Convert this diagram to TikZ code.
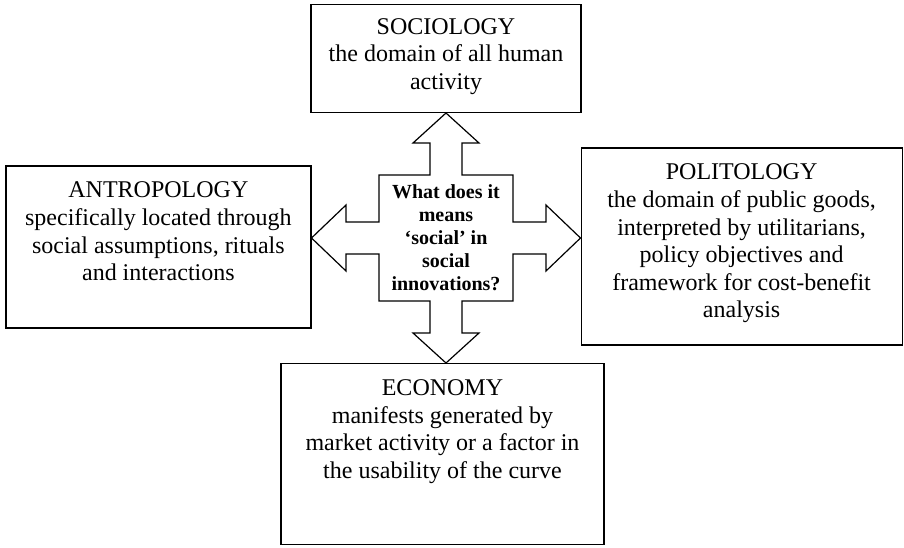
\documentclass[tikz,border=0pt]{standalone}
\usepackage{fontspec}
\setmainfont{Liberation Serif}
\usetikzlibrary{positioning}

\begin{document}
\begin{tikzpicture}[x=0.5pt,y=-0.5pt,line width=0.6pt,
box/.style={draw,rectangle,inner sep=0pt},
txt/.style={align=center,inner sep=0pt,font=\fontsize{12}{13.8}\selectfont},
ask/.style={align=center,inner sep=0pt,font=\fontsize{10}{11.5}\selectfont\bfseries}]
\useasboundingbox (0,0) rectangle (904,547);
\begin{scope}[shift={(446,238)}]
\draw (-67,-63)--(-16,-63)--(-16,-95)--(-33,-95)--(0,-125)--(33,-95)--(16,-95)--(16,-63)
--(67,-63)--(67,-16)--(100,-16)--(100,-33)--(134.5,0)--(100,33)--(100,16)--(67,16)
--(67,63)--(16,63)--(16,95)--(33,95)--(0,125)--(-33,95)--(-16,95)--(-16,63)
--(-67,63)--(-67,16)--(-100,16)--(-100,33)--(-134.5,0)--(-100,-33)--(-100,-16)--(-67,-16)--cycle;
\coordinate (tn) at (0,-125);
\coordinate (ts) at (0,125);
\coordinate (tw) at (-134.5,0);
\coordinate (te) at (134.5,0);
\end{scope}
\node[ask] (q) at (446,238) {What does it\\means\\‘social’ in\\social\\innovations?};
\node[box,minimum width=135pt,minimum height=54pt,anchor=south] (soc) at (tn) {};
\node[box,minimum width=152.5pt,minimum height=81pt,anchor=east,yshift=-4.5pt] (ant) at (tw) {};
\node[box,minimum width=160.5pt,minimum height=98.5pt,anchor=west,yshift=-4.25pt] (pol) at (te) {};
\node[box,minimum width=161.5pt,minimum height=90.5pt,anchor=north,xshift=-1.75pt] (eco) at (ts) {};
\node[txt,below=7pt of soc.north] (socT) {SOCIOLOGY\\the domain of all human\\activity};
\node[txt,below=8pt of ant.north] (antT) {ANTROPOLOGY\\specifically located through\\social assumptions, rituals\\and interactions};
\node[txt,below=8pt of pol.north] (polT) {POLITOLOGY\\the domain of public goods,\\interpreted by utilitarians,\\policy objectives and\\framework for cost-benefit\\analysis};
\node[txt,below=8pt of eco.north] (ecoT) {ECONOMY\\manifests generated by\\market activity or a factor in\\the usability of the curve};
\end{tikzpicture}
\end{document}
